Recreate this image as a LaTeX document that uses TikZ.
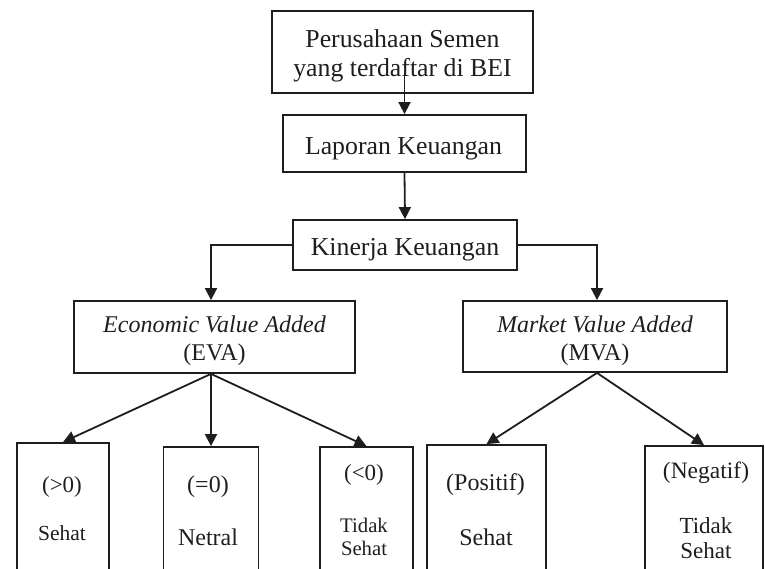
\documentclass[tikz,border=0pt]{standalone}
\usepackage{fontspec}
\setmainfont{Liberation Serif}
\usetikzlibrary{arrows.meta}
\definecolor{ink}{HTML}{1E1E1E}
\tikzset{
  box/.style={draw=ink, line width=1.8pt, rectangle, inner sep=0pt},
  arr/.style={draw=ink, line width=1.8pt, -{Triangle[length=12pt,width=12pt]}},
  txt/.style={anchor=base, inner sep=0pt, text=ink},
}
\newcommand{\fsA}{\fontsize{25.8}{29}\selectfont}
\newcommand{\fsB}{\fontsize{24}{28}\selectfont}
\newcommand{\fsC}{\fontsize{21.5}{24}\selectfont}
\begin{document}
\begin{tikzpicture}[x=1pt,y=-1pt]
\useasboundingbox (0,0) rectangle (765,569);
\clip (0,0) rectangle (765,569);
% boxes
\node[box, minimum width=261pt, minimum height=82pt] (b1) at (402.5,52) {};
\node[box, minimum width=243pt, minimum height=57pt] (b2) at (404.5,143.5) {};
\node[box, minimum width=224pt, minimum height=50pt] (k) at (405,245) {};
\node[box, minimum width=281pt, minimum height=72pt] (eva) at (214.5,337) {};
\node[box, minimum width=264pt, minimum height=71pt] (mva) at (595,336.5) {};
\node[box, minimum width=92pt, minimum height=140pt] (a) at (63,513) {};
\node[box, minimum width=95pt, minimum height=136pt] (b) at (211,515) {};
\node[box, minimum width=93pt, minimum height=136pt] (c) at (366.5,515) {};
\node[box, minimum width=119pt, minimum height=138pt] (d) at (486.5,514) {};
\node[box, minimum width=118pt, minimum height=136pt] (e) at (704,514) {};
\coordinate (evs) at (eva.south -| b.north);
\coordinate (evn) at (eva.north -| b.north);
\coordinate (mvs) at ([xshift=2pt]mva.south);
\coordinate (mvn) at ([xshift=2pt]mva.north);
% texts
\node[txt] (t1a) at (402.5,48) {\fsA Perusahaan Semen};
\node[txt] (t1b) at (402.5,77) {\fsA yang terdaftar di BEI};
\node[txt] (t2) at (403.5,155) {\fsA Laporan Keuangan};
\node[txt] (t3) at (405,255) {\fsA Kinerja Keuangan};
\node[txt] (t4a) at (214.5,332) {\fsB\itshape Economic Value Added};
\node[txt] (t4b) at (214.5,360) {\fsB (EVA)};
\node[txt] (t5a) at (595,332) {\fsB\itshape Market Value Added};
\node[txt] (t5b) at (595,360) {\fsB (MVA)};
\node[txt] (ta1) at (62,492) {\fontsize{23}{26}\selectfont ({>}0)};
\node[txt] (ta2) at (62,540) {\fsC Sehat};
\node[txt] (tb1) at (208,492) {\fsB (=0)};
\node[txt] (tb2) at (208,545) {\fsB Netral};
\node[txt] (tc1) at (364,480) {\fontsize{23}{26}\selectfont ({<}0)};
\node[txt] (tc2) at (364,532) {\fontsize{20.7}{23}\selectfont Tidak};
\node[txt] (tc3) at (364,555) {\fontsize{20.7}{23}\selectfont Sehat};
\node[txt] (td1) at (485.5,490) {\fsB (Positif)};
\node[txt] (td2) at (486,545) {\fsB Sehat};
\node[txt] (te1) at (706,478) {\fontsize{23.5}{26}\selectfont (Negatif)};
\node[txt] (te2) at (706,533) {\fontsize{23}{26}\selectfont Tidak};
\node[txt] (te3) at (706,558) {\fontsize{23}{26}\selectfont Sehat};
% connectors
\draw[arr] ([yshift=20pt]b1.south -| b2.north) -- (b2.north);
\draw[arr] (b2.south) -- (k.north);
\draw[arr] (k.west) -| (evn);
\draw[arr] (k.east) -| (mvn);
\draw[arr] (evs) -- (a.north);
\draw[arr] (evs) -- (b.north);
\draw[arr] (evs) -- (c.north);
\draw[arr] (mvs) -- (d.north);
\draw[arr] (mvs) -- (e.north);
\end{tikzpicture}
\end{document}
